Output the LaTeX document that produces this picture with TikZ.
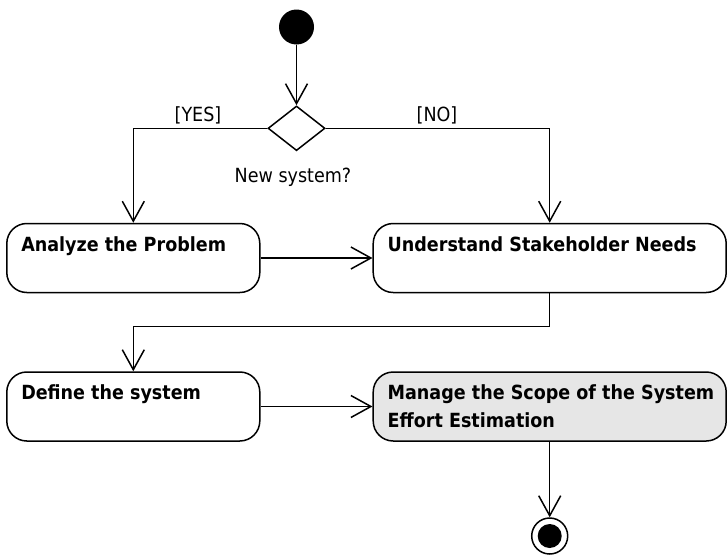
\documentclass[tikz,border=0pt]{standalone}
\usepackage{fontspec}
\setmainfont{DejaVu Sans}[FakeStretch=0.9]
\usetikzlibrary{arrows.meta}
\usetikzlibrary{shapes.geometric}
\usetikzlibrary{positioning}

\definecolor{actshade}{HTML}{E6E6E6}

\begin{document}
\begin{tikzpicture}[
      x=1pt,y=-1pt,
      every node/.style={font=\fontsize{19.5}{27.4}\selectfont},
      action/.style={draw,line width=1.5pt,rounded corners=20pt,minimum width=253pt,minimum height=69pt,inner sep=0pt},
      atext/.style={anchor=north west,inner sep=0pt,align=left,font=\bfseries\fontsize{19.5}{27.4}\selectfont},
      guard/.style={inner sep=0pt},
      flow/.style={line width=1.5pt,-{Straight Barb[length=20pt,width=22pt]}},
    ]
        \useasboundingbox (0,0) rectangle (727,554);

        \node[circle,fill,minimum size=35pt,inner sep=0pt] (start) at (296.5,27) {};
        \node[diamond,draw,line width=1.5pt,minimum width=57pt,minimum height=44.7pt,inner sep=0pt] (decide) at (296.5,128.3) {};

        \node[action] (analyze) at (133.3,258) {};
        \node[action,minimum width=353pt] (understand) at (549.7,258) {};
        \node[action] (define) at (133.3,406.5) {};
        \node[action,fill=actshade,minimum width=353pt] (manage) at (549.7,406.5) {};

        \node[atext] (analyzetxt) at ([shift={(15,13.5)}]analyze.north west) {Analyze the Problem};
        \node[atext] (understandtxt) at ([shift={(15,13.5)}]understand.north west) {Understand Stakeholder Needs};
        \node[atext] (definetxt) at ([shift={(15,13.5)}]define.north west) {Define the system};
        \node[atext] (managetxt) at ([shift={(15,13.5)}]manage.north west) {Manage the Scope of the System\\Effort Estimation};

        \node[circle,draw,line width=1.5pt,minimum size=36pt,inner sep=0pt] (finish) at (549.7,536) {};
        \node[circle,fill,minimum size=24pt,inner sep=0pt] (finishdot) at (finish) {};

        \node[guard] (yes) at (198,115) {[YES]};
        \node[guard] (no) at (437,115) {[NO]};
        \node[guard] (question) at (293,177) {New system?};

        \draw[flow] (start) -- (decide);
        \draw[flow] (decide.west) -| (analyze.north);
        \draw[flow] (decide.east) -| (understand.north);
        \draw[flow] (analyze) -- (understand);
        \draw[flow] (understand.south) -- ++(0,33) -| (define.north);
        \draw[flow] (define) -- (manage);
        \draw[flow] (manage) -- (finish);
    \end{tikzpicture}
\end{document}
